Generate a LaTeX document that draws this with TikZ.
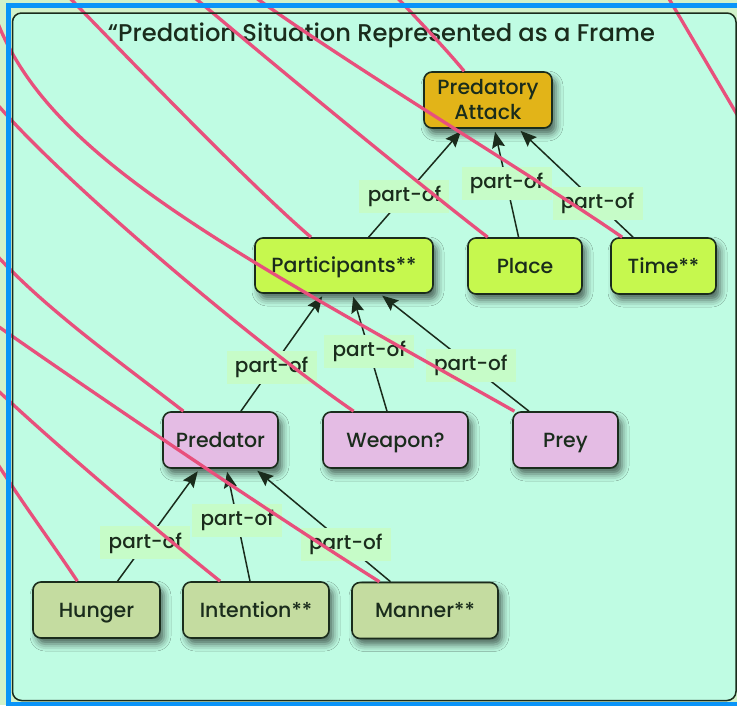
\documentclass[tikz,border=0pt]{standalone}
\usepackage{fontspec}
\setmainfont{Poppins}[UprightFont=* Medium]
\usetikzlibrary{arrows.meta,shadows.blur}

\definecolor{pagebg}{HTML}{D2F2CA}
\definecolor{panelbg}{HTML}{BFFCE3}
\definecolor{framebl}{HTML}{0A94F8}
\definecolor{inkdark}{HTML}{1A2C1C}
\definecolor{topfill}{HTML}{E2B418}
\definecolor{limefill}{HTML}{C6F84E}
\definecolor{lilacfill}{HTML}{E4BCE4}
\definecolor{sagefill}{HTML}{C4DCA0}
\definecolor{tagfill}{HTML}{C6FCC8}
\definecolor{wire}{HTML}{E8507C}

\tikzset{
  box/.style={draw=inkdark, line width=1.6pt, rounded corners=8pt,
    minimum height=56pt, inner sep=0pt, text=inkdark,
    font=\fontsize{20.5}{26}\selectfont, align=center,
    blur shadow={shadow xshift=4pt, shadow yshift=-6pt,
      shadow blur radius=7pt, shadow opacity=60}},
  oneline/.style={box, text height=18pt, text depth=3.7pt},
  framebox/.style={box, fill=topfill},
  partbox/.style={oneline, fill=limefill},
  rolebox/.style={oneline, fill=lilacfill},
  detailbox/.style={oneline, fill=sagefill},
  partof/.style={draw=inkdark, line width=1.5pt,
    -{Stealth[length=16pt,width=13pt,inset=2.5pt]}, shorten >=3pt},
  tag/.style={fill=tagfill, text=inkdark, font=\fontsize{20}{24}\selectfont,
    minimum width=90pt, minimum height=33pt, inner sep=0pt},
  wireline/.style={draw=wire, line width=3.3pt},
}

\begin{document}
\begin{tikzpicture}[x=1pt, y=-1pt]
  \useasboundingbox (0,0) rectangle (737,705);
  \clip (0,0) rectangle (737,705);

  % page and panel
  \fill[pagebg] (0,0) rectangle (737,705);
  \fill[panelbg, rounded corners=9pt] (12.5,13) rectangle (736,700.5);

  \node[anchor=base, text=inkdark, font=\fontsize{24.2}{30}\selectfont] (title)
    at (381.5,41) {“Predation Situation Represented as a Frame};

  % frame nodes
  \node[framebox, minimum width=128pt, font=\fontsize{20.5}{25}\selectfont] (pa) at (488,100) {Predatory\\Attack};

  \node[partbox, minimum width=178pt, minimum height=55pt] (participants) at (344,265.5) {Participants**};
  \node[partbox, minimum width=114pt] (place) at (525,266) {Place};
  \node[partbox, minimum width=105pt] (time) at (663.5,266) {Time**};

  \node[rolebox, minimum width=115pt] (predator) at (220.5,440) {Predator};
  \node[rolebox, minimum width=145pt] (weapon) at (395.5,440) {Weapon?};
  \node[rolebox, minimum width=105pt] (prey) at (565.5,440) {Prey};

  \node[detailbox, minimum width=127pt] (hunger) at (96.5,610) {Hunger};
  \node[detailbox, minimum width=146pt] (intention) at (256,610) {Intention**};
  \node[detailbox, minimum width=146pt] (manner) at (425,610.5) {Manner**};

  % part-of relations
  \draw[partof] (participants) -- (pa) node[tag, pos=0.38] {part-of};
  \draw[partof] (place) -- (pa) node[tag, pos=0.5] {part-of};
  \draw[partof] (time) -- (pa) node[tag, pos=0.31] {part-of};

  \draw[partof] (predator) -- (participants) node[tag, pos=0.37] {part-of};
  \draw[partof] (weapon) -- (participants) node[tag, pos=0.51] {part-of};
  \draw[partof] (prey) -- (participants) node[tag, pos=0.39] {part-of};

  \draw[partof] (hunger) -- (predator) node[tag, pos=0.34] {part-of};
  \draw[partof] (intention) -- (predator) node[tag, pos=0.54] {part-of};
  \draw[partof] (manner) -- (predator) node[tag, pos=0.33] {part-of};

  % incoming links from outside the panel
  \coordinate (inPa) at (392,-8);
  \coordinate (inTime) at (248,-8);
  \coordinate (inPlace) at (188,-8);
  \coordinate (inParts) at (64,-8);
  \coordinate (inPrey) at (-7,10);
  \coordinate (inWeapon) at (-8,98);
  \coordinate (inPredator) at (-8,250);
  \coordinate (inManner) at (-8,322);
  \coordinate (inIntention) at (-8,385);
  \coordinate (inHunger) at (-8,455);
  \coordinate (strayA) at (665,-8);
  \coordinate (strayB) at (752,140);

  \draw[wireline] (inPa) .. controls (420,22) and (445,48) .. (pa);
  \draw[wireline] (inTime) .. controls (340,60) and (540,180) .. (time);
  \draw[wireline] (inPlace) .. controls (280,70) and (420,185) .. (place);
  \draw[wireline] (inParts) .. controls (130,60) and (250,185) .. (participants);
  \draw[wireline] (inPrey) .. controls (40,150) and (210,240) .. (prey);
  \draw[wireline] (inWeapon) .. controls (50,170) and (250,340) .. (weapon);
  \draw[wireline] (inPredator) .. controls (40,305) and (120,362) .. (predator);
  \draw[wireline] (inManner) .. controls (60,370) and (250,500) .. (manner);
  \draw[wireline] (inIntention) .. controls (50,440) and (150,525) .. (intention);
  \draw[wireline] (inHunger) .. controls (20,500) and (50,540) .. (hunger);
  \draw[wireline] (strayA) -- (strayB);

  % outer frame and panel outline
  \draw[inkdark, line width=1.5pt, rounded corners=9pt] (12.5,13) rectangle (736,700.5);
  \draw[framebl, line width=5.5pt] (8.5,5.5) rectangle (760,704.5);
\end{tikzpicture}
\end{document}
